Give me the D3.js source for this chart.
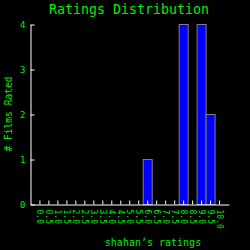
<!DOCTYPE html>
<html><head><meta charset="utf-8">
<script src="https://cdn.jsdelivr.net/npm/d3@7"></script>
<style>html,body{margin:0;padding:0;background:#000;}svg{display:block;}</style>
</head><body>
<script>
const categories = ["0.0","0.5","1.0","1.5","2.0","2.5","3.0","3.5","4.0","4.5","5.0","5.5","6.0","6.5","7.0","7.5","8.0","8.5","9.0","9.5","10.0"];
const counts =     [0,0,0,0,0,0,0,0,0,0,0,0,1,0,0,0,4,0,4,2,0];
const yTicks = [0,1,2,3,4];
const title = "Ratings Distribution";
const xTitle = "shahan\u2019s ratings";
const yTitle = "# Films Rated";

const W = 250, H = 250;
const green = "#00ee00";
const font = "'DejaVu Sans Mono', monospace";
const svg = d3.select("body").append("svg").attr("width", W).attr("height", H)
  .style("background", "#000");
svg.append("rect").attr("width", W).attr("height", H).attr("fill", "#000");

const x = d3.scaleBand().domain(categories).range([30.5, 229]).paddingInner(0).paddingOuter(0.55);
const y = d3.scaleLinear().domain([0, 4]).range([204.5, 24.5]);

svg.append("g").selectAll("rect").data(categories).join("rect")
  .attr("x", d => x(d))
  .attr("y", (d,i) => y(counts[i]))
  .attr("width", x.bandwidth())
  .attr("height", (d,i) => y(0) - y(counts[i]))
  .attr("fill", "#0000ff")
  .attr("stroke", "#808080")
  .attr("stroke-width", 1)
  .style("display", (d,i) => counts[i] > 0 ? null : "none");

const yAxis = svg.append("g").attr("transform", "translate(30.5,0)")
  .call(d3.axisLeft(y).tickValues(yTicks).tickFormat(d3.format("d")).tickSize(-4).tickSizeOuter(0).tickPadding(5));
const xAxis = svg.append("g").attr("transform", "translate(0,204.5)")
  .call(d3.axisBottom(x).tickSize(-4).tickSizeOuter(0));

[yAxis, xAxis].forEach(g => {
  g.select(".domain").attr("stroke", "#fff").attr("stroke-width", 1);
  g.selectAll(".tick line").attr("stroke", "#fff");
  g.selectAll("text").attr("fill", green).style("font-family", font).style("font-size", "9px");
});
xAxis.selectAll(".tick text")
  .style("font-size", "8px")
  .attr("transform", "rotate(90)")
  .attr("x", 5).attr("y", 0).attr("dy", "0.35em")
  .attr("text-anchor", "start");

svg.append("text").attr("x", 129).attr("y", 14).attr("text-anchor", "middle")
  .attr("fill", green).style("font-family", font).style("font-size", "13.3px").text(title);
svg.append("text").attr("x", 153).attr("y", 246).attr("text-anchor", "middle")
  .attr("fill", green).style("font-family", font).style("font-size", "10px").text(xTitle);
svg.append("text").attr("transform", "translate(12,114) rotate(-90)").attr("text-anchor", "middle")
  .attr("fill", green).style("font-family", font).style("font-size", "9.6px").text(yTitle);
</script>
</body></html>
